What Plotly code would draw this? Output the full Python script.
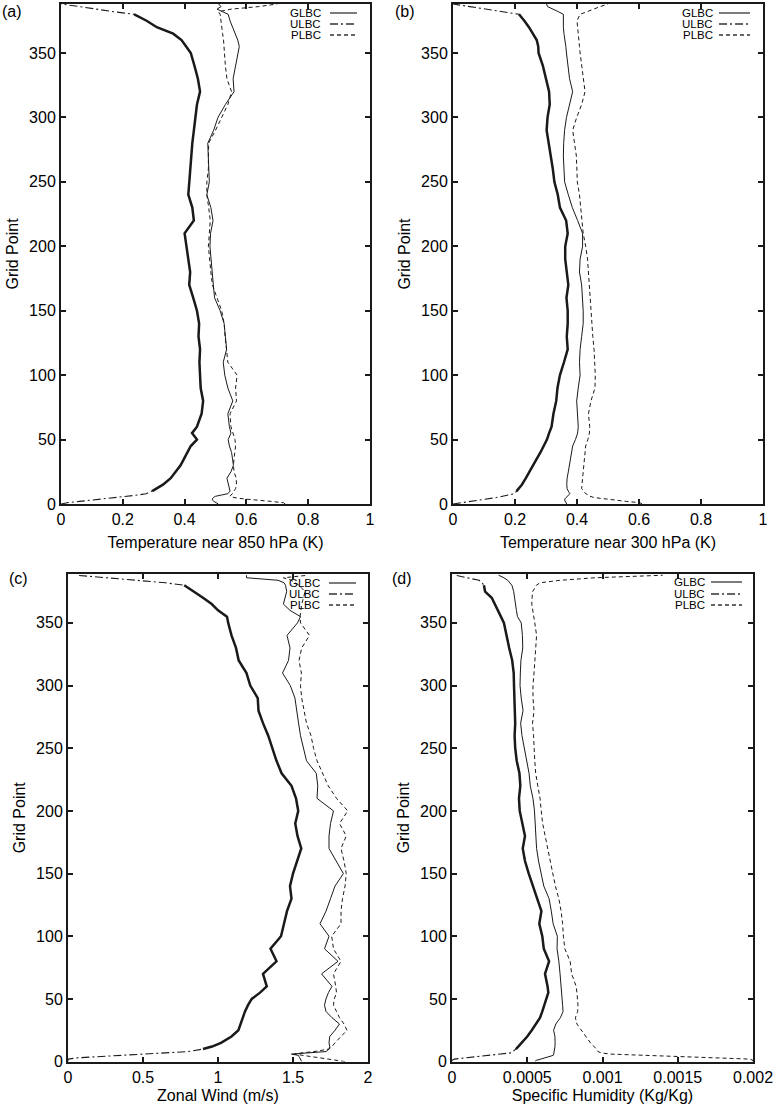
import plotly.graph_objects as go

# ---------------- data ----------------
GRID_POINTS = [0, 1, 2, 3, 4, 5, 6, 7, 8, 10, 12, 15, 20, 25, 30, 35, 40, 45, 50, 55,
               60, 70, 80, 90, 100, 110, 120, 130, 140, 150, 160, 170, 180, 190, 200,
               210, 220, 230, 240, 250, 260, 270, 280, 290, 300, 310, 320, 330, 340,
               350, 355, 360, 365, 370, 375, 380, 382, 384, 386, 388]

# (a) Temperature near 850 hPa (K)
A_GLBC = [0.509, 0.50, 0.495, 0.49, 0.49, 0.493, 0.50, 0.52, 0.54, 0.547, 0.545, 0.54, 0.537, 0.55, 0.558, 0.555, 0.552, 0.545, 0.541, 0.55,
          0.545, 0.54, 0.556, 0.54, 0.53, 0.525, 0.536, 0.532, 0.528, 0.515, 0.497, 0.493, 0.49, 0.485, 0.482,
          0.484, 0.492, 0.485, 0.472, 0.48, 0.478, 0.477, 0.475, 0.494, 0.508, 0.532, 0.56, 0.557, 0.565,
          0.572, 0.577, 0.572, 0.563, 0.555, 0.547, 0.541, 0.52, 0.505, 0.518, 0.51]
A_ULBC = [0.0, 0.02, 0.06, 0.10, 0.14, 0.18, 0.22, 0.25, 0.275, 0.295, 0.31, 0.33, 0.355, 0.372, 0.387, 0.398, 0.408, 0.42, 0.44, 0.424,
          0.44, 0.455, 0.46, 0.452, 0.45, 0.448, 0.45, 0.445, 0.447, 0.44, 0.428, 0.415, 0.418, 0.412, 0.405,
          0.40, 0.43, 0.425, 0.412, 0.415, 0.418, 0.422, 0.425, 0.43, 0.435, 0.44, 0.45, 0.443, 0.432,
          0.42, 0.405, 0.39, 0.363, 0.31, 0.277, 0.237, 0.17, 0.12, 0.06, 0.0]
A_PLBC = [0.725, 0.72, 0.68, 0.63, 0.59, 0.56, 0.547, 0.55, 0.555, 0.56, 0.565, 0.568, 0.567, 0.56, 0.558, 0.56, 0.562, 0.565, 0.563, 0.556,
          0.55, 0.547, 0.568, 0.565, 0.57, 0.54, 0.535, 0.531, 0.528, 0.52, 0.505, 0.49, 0.485, 0.48, 0.477,
          0.48, 0.483, 0.478, 0.472, 0.472, 0.477, 0.477, 0.478, 0.50, 0.52, 0.54, 0.552, 0.537, 0.532,
          0.53, 0.527, 0.526, 0.523, 0.52, 0.517, 0.515, 0.51, 0.55, 0.64, 0.70]

# (b) Temperature near 300 hPa (K)
B_GLBC = [0.367, 0.365, 0.362, 0.36, 0.361, 0.365, 0.372, 0.376, 0.377, 0.372, 0.368, 0.367, 0.368, 0.372, 0.376, 0.379, 0.382, 0.386, 0.395, 0.402,
          0.404, 0.402, 0.399, 0.404, 0.41, 0.408, 0.41, 0.415, 0.42, 0.42, 0.418, 0.415, 0.408, 0.41, 0.418,
          0.418, 0.402, 0.385, 0.372, 0.36, 0.358, 0.356, 0.357, 0.36, 0.366, 0.376, 0.386, 0.376, 0.37,
          0.366, 0.364, 0.36, 0.358, 0.356, 0.356, 0.356, 0.34, 0.322, 0.305, 0.302]
B_ULBC = [0.0, 0.03, 0.06, 0.09, 0.115, 0.14, 0.16, 0.18, 0.198, 0.205, 0.212, 0.222, 0.235, 0.246, 0.258, 0.27, 0.282, 0.293, 0.303, 0.31,
          0.318, 0.324, 0.333, 0.337, 0.345, 0.358, 0.37, 0.367, 0.37, 0.37, 0.366, 0.372, 0.367, 0.362, 0.362,
          0.37, 0.365, 0.345, 0.338, 0.327, 0.322, 0.316, 0.31, 0.302, 0.305, 0.312, 0.31, 0.30, 0.29,
          0.276, 0.275, 0.27, 0.258, 0.245, 0.23, 0.213, 0.16, 0.11, 0.05, 0.0]
B_PLBC = [0.61, 0.603, 0.56, 0.52, 0.48, 0.455, 0.442, 0.437, 0.428, 0.42, 0.415, 0.416, 0.418, 0.42, 0.42, 0.422, 0.425, 0.428, 0.435, 0.44,
          0.441, 0.437, 0.445, 0.458, 0.459, 0.458, 0.455, 0.451, 0.448, 0.445, 0.441, 0.439, 0.437, 0.434, 0.428,
          0.42, 0.416, 0.412, 0.408, 0.401, 0.399, 0.398, 0.392, 0.386, 0.399, 0.415, 0.426, 0.42, 0.415,
          0.41, 0.408, 0.406, 0.404, 0.402, 0.40, 0.41, 0.43, 0.45, 0.475, 0.50]

# (c) Zonal Wind (m/s)
C_GLBC = [1.558, 1.555, 1.55, 1.545, 1.54, 1.536, 1.49, 1.60, 1.72, 1.74, 1.745, 1.74, 1.745, 1.78, 1.81, 1.76, 1.72, 1.71, 1.72, 1.736,
          1.76, 1.69, 1.80, 1.71, 1.74, 1.68, 1.72, 1.75, 1.78, 1.836, 1.79, 1.74, 1.74, 1.75, 1.77,
          1.66, 1.665, 1.655, 1.59, 1.568, 1.55, 1.537, 1.525, 1.513, 1.482, 1.43, 1.47, 1.48, 1.46,
          1.53, 1.55, 1.48, 1.436, 1.447, 1.458, 1.45, 1.44, 1.40, 1.19, 1.19]
C_ULBC = [0.0, 0.0, 0.0, 0.06, 0.21, 0.36, 0.51, 0.65, 0.80, 0.90, 0.96, 1.02, 1.09, 1.136, 1.15, 1.165, 1.18, 1.20, 1.225, 1.28,
          1.325, 1.30, 1.39, 1.35, 1.42, 1.44, 1.46, 1.49, 1.48, 1.50, 1.53, 1.555, 1.53, 1.515, 1.535,
          1.52, 1.49, 1.424, 1.39, 1.365, 1.335, 1.30, 1.27, 1.265, 1.215, 1.19, 1.138, 1.12, 1.09,
          1.068, 1.06, 1.00, 0.958, 0.90, 0.84, 0.775, 0.65, 0.46, 0.26, 0.06]
C_PLBC = [1.847, 1.80, 1.74, 1.68, 1.62, 1.56, 1.51, 1.56, 1.64, 1.74, 1.76, 1.78, 1.82, 1.86, 1.84, 1.81, 1.79, 1.77, 1.775, 1.79,
          1.785, 1.77, 1.82, 1.77, 1.758, 1.82, 1.82, 1.83, 1.847, 1.855, 1.84, 1.82, 1.855, 1.81, 1.865,
          1.79, 1.735, 1.695, 1.66, 1.637, 1.62, 1.59, 1.575, 1.558, 1.55, 1.556, 1.54, 1.558, 1.61,
          1.55, 1.547, 1.552, 1.558, 1.57, 1.58, 1.54, 1.51, 1.49, 1.436, 1.60]

# (d) Specific Humidity (Kg/Kg), listed in units of 1e-4
D_SCALE = 1e-4
D_GLBC_E4 = [5.5, 5.6, 5.9, 6.2, 6.5, 6.73, 6.76, 6.78, 6.8, 6.82, 6.84, 6.85, 6.84, 6.75, 6.9, 7.2, 7.38, 7.35, 7.32, 7.3,
             7.26, 7.18, 7.1, 6.98, 7.0, 6.72, 6.6, 6.45, 6.1, 5.92, 5.75, 5.62, 5.58, 5.55, 5.48,
             5.38, 5.2, 5.12, 4.95, 4.82, 4.65, 4.56, 4.72, 4.6, 4.52, 4.54, 4.58, 4.7, 4.68,
             4.6, 4.35, 4.28, 4.22, 4.19, 4.1, 3.98, 3.85, 3.7, 3.45, 3.1]
D_ULBC_E4 = [0.0, 0.0, 0.15, 0.95, 1.75, 2.55, 3.35, 3.95, 4.05, 4.25, 4.4, 4.6, 5.0, 5.3, 5.6, 5.85, 6.0, 6.15, 6.3, 6.4,
             6.35, 6.18, 6.45, 6.1, 6.0, 5.8, 5.94, 5.65, 5.4, 5.1, 4.85, 4.7, 4.85, 4.65, 4.5,
             4.45, 4.54, 4.48, 4.3, 4.2, 4.16, 4.2, 4.19, 4.15, 4.12, 4.1, 4.0, 3.8, 3.65,
             3.45, 3.25, 3.05, 2.85, 2.64, 2.2, 2.12, 2.0, 1.8, 1.0, 0.25]
D_PLBC_E4 = [20.0, 20.0, 19.8, 17.5, 15.0, 12.5, 10.5, 9.9, 9.7, 9.6, 9.45, 9.2, 8.9, 8.6, 8.3, 8.2, 8.35, 8.37, 8.35, 8.3,
             8.25, 7.95, 7.85, 7.5, 7.4, 7.35, 7.25, 7.1, 6.87, 6.7, 6.52, 6.35, 6.16, 6.02, 5.93,
             5.85, 5.7, 5.56, 5.5, 5.47, 5.42, 5.35, 5.45, 5.38, 5.38, 5.45, 5.52, 5.58, 5.62,
             5.5, 5.45, 5.35, 5.3, 5.32, 5.36, 5.6, 5.85, 7.2, 9.5, 14.0]
D_GLBC = [v * D_SCALE for v in D_GLBC_E4]
D_ULBC = [v * D_SCALE for v in D_ULBC_E4]
D_PLBC = [v * D_SCALE for v in D_PLBC_E4]

PANEL_LABELS = ["(a)", "(b)", "(c)", "(d)"]
X_TITLES = ["Temperature near 850 hPa (K)", "Temperature near 300 hPa (K)",
            "Zonal Wind (m/s)", "Specific Humidity (Kg/Kg)"]
X_TICKVALS = [[0, 0.2, 0.4, 0.6, 0.8, 1], [0, 0.2, 0.4, 0.6, 0.8, 1],
              [0, 0.5, 1, 1.5, 2], [0, 0.0005, 0.001, 0.0015, 0.002]]
X_TICKTEXT = [["0", "0.2", "0.4", "0.6", "0.8", "1"], ["0", "0.2", "0.4", "0.6", "0.8", "1"],
              ["0", "0.5", "1", "1.5", "2"], ["0", "0.0005", "0.001", "0.0015", "0.002"]]
X_RANGES = [[0, 1], [0, 1], [0, 2], [0, 0.002]]
Y_RANGES = [[0, 388], [0, 388], [0, 389], [0, 389]]
Y_TICKS = [0, 50, 100, 150, 200, 250, 300, 350]
SERIES_NAMES = ["GLBC", "ULBC", "PLBC"]
PANELS = [(A_GLBC, A_ULBC, A_PLBC), (B_GLBC, B_ULBC, B_PLBC),
          (C_GLBC, C_ULBC, C_PLBC), (D_GLBC, D_ULBC, D_PLBC)]

# ---------------- layout geometry ----------------
W, H = 774, 1107
# plot frames in pixels: (left, right, top, bottom)
FRAMES = [(61, 370, 4, 504), (453, 763, 4, 504), (68, 368, 574, 1061.6), (452, 753, 574, 1061.6)]
X_TITLE_STANDOFF = [10, 10, 5, 5]
LABEL_POS = [(0, 11), (393, 11), (7, 578), (390, 578)]
LEGEND_TEXT_RIGHT = [323, 715, 322, 707]
LEGEND_SAMPLE = [(330, 357), (719, 750), (329, 356), (711, 742)]
LEGEND_ROWS = [(13, 24, 35), (13, 24, 35), (583, 594, 605), (582, 594, 605)]

INK = "#1a1a1a"
FONT = "Liberation Sans, Arial, Helvetica, sans-serif"
FS = 16


def px_x(p):
    return p / W


def px_y(p):
    return 1 - p / H


fig = go.Figure()
inner = [i for i, g in enumerate(GRID_POINTS) if 10 <= g <= 380]

for k, (glbc, ulbc, plbc) in enumerate(PANELS):
    xa = "x" if k == 0 else f"x{k + 1}"
    ya = "y" if k == 0 else f"y{k + 1}"
    fig.add_trace(go.Scatter(x=glbc, y=GRID_POINTS, mode="lines", xaxis=xa, yaxis=ya,
                             line=dict(color=INK, width=1), showlegend=False,
                             name=SERIES_NAMES[0]))
    fig.add_trace(go.Scatter(x=plbc, y=GRID_POINTS, mode="lines", xaxis=xa, yaxis=ya,
                             line=dict(color=INK, width=1, dash="4px,3px"), showlegend=False,
                             name=SERIES_NAMES[2]))
    fig.add_trace(go.Scatter(x=ulbc, y=GRID_POINTS, mode="lines", xaxis=xa, yaxis=ya,
                             line=dict(color=INK, width=1.1, dash="8px,3px,2px,3px"),
                             showlegend=False, name=SERIES_NAMES[1]))
    fig.add_trace(go.Scatter(x=[ulbc[i] for i in inner], y=[GRID_POINTS[i] for i in inner],
                             mode="lines", xaxis=xa, yaxis=ya,
                             line=dict(color=INK, width=2.5), showlegend=False,
                             name=SERIES_NAMES[1]))

layout = dict(width=W, height=H, margin=dict(l=0, r=0, t=0, b=0, autoexpand=False),
              paper_bgcolor="white", plot_bgcolor="white",
              font=dict(family=FONT, size=FS, color="black"), showlegend=False)

annotations = []
shapes = []
for k in range(4):
    l, r, t, b = FRAMES[k]
    sfx = "" if k == 0 else str(k + 1)
    layout["xaxis" + sfx] = dict(
        domain=[px_x(l), px_x(r)], anchor="y" + sfx, range=X_RANGES[k],
        tickvals=X_TICKVALS[k], ticktext=X_TICKTEXT[k], automargin=False,
        showline=True, linewidth=2, linecolor=INK, mirror="ticks",
        ticks="inside", ticklen=5, tickwidth=1.5, tickcolor=INK,
        showgrid=False, zeroline=False,
        title=dict(text=X_TITLES[k], standoff=X_TITLE_STANDOFF[k], font=dict(size=FS)),
        tickfont=dict(size=FS))
    layout["yaxis" + sfx] = dict(
        domain=[px_y(b), px_y(t)], anchor="x" + sfx, range=Y_RANGES[k],
        tickvals=Y_TICKS, automargin=False,
        showline=True, linewidth=2, linecolor=INK, mirror="ticks",
        ticks="inside", ticklen=5, tickwidth=1.5, tickcolor=INK,
        showgrid=False, zeroline=False,
        title=dict(text="Grid Point", standoff=6, font=dict(size=FS)),
        tickfont=dict(size=FS))
    lx, ly = LABEL_POS[k]
    annotations.append(dict(text=PANEL_LABELS[k], xref="paper", yref="paper",
                            x=px_x(lx), y=px_y(ly), xanchor="left", yanchor="middle",
                            showarrow=False, font=dict(size=FS)))
    dashes = ["solid", "8px,3px,2px,3px", "4px,3px"]
    for j, name in enumerate(SERIES_NAMES):
        ry = LEGEND_ROWS[k][j]
        annotations.append(dict(text=name, xref="paper", yref="paper",
                                x=px_x(LEGEND_TEXT_RIGHT[k]), y=px_y(ry),
                                xanchor="right", yanchor="middle", showarrow=False,
                                font=dict(size=11.5)))
        s0, s1 = LEGEND_SAMPLE[k]
        shapes.append(dict(type="line", xref="paper", yref="paper",
                           x0=px_x(s0), x1=px_x(s1), y0=px_y(ry), y1=px_y(ry),
                           line=dict(color="#333333", width=1.3, dash=dashes[j])))

layout["annotations"] = annotations
layout["shapes"] = shapes
fig.update_layout(**layout)
fig.write_html("out.html", config={"displayModeBar": False},
               post_script="document.body.style.margin='0';document.body.style.padding='0';")
